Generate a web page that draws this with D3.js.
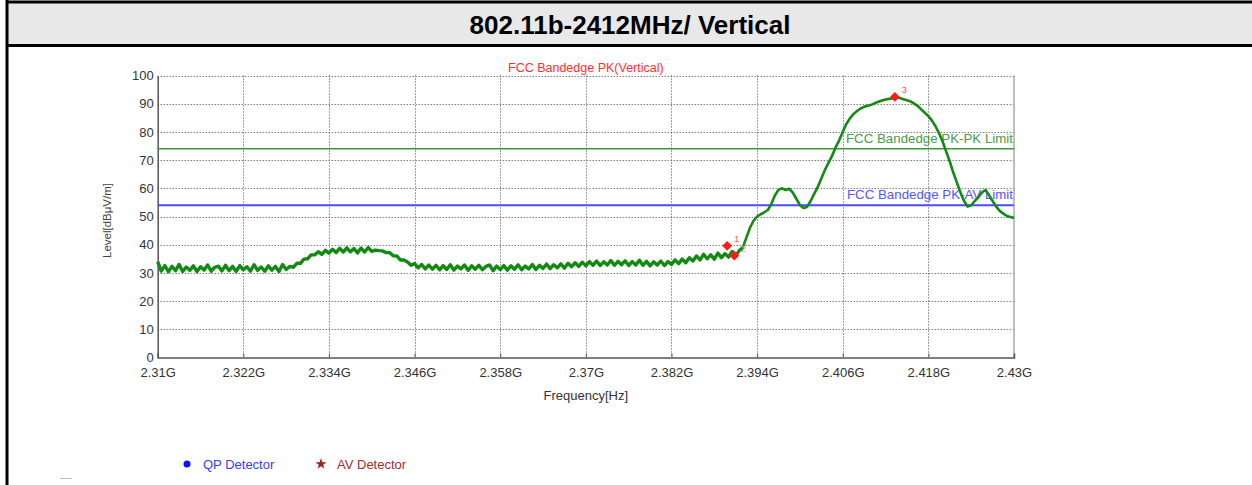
<!DOCTYPE html>
<html><head><meta charset="utf-8">
<script src="https://cdn.jsdelivr.net/npm/d3@7"></script>
<style>
body{margin:0;background:#fff;}
svg{display:block;font-family:Arial,"Liberation Sans",sans-serif;}
</style></head>
<body>
<svg id="c" width="1252" height="485"></svg>
<script>
// ---------- data ----------
const pageTitle = "802.11b-2412MHz/ Vertical";
const chartTitle = "FCC Bandedge PK(Vertical)";
const xTicks = [2.31, 2.322, 2.334, 2.346, 2.358, 2.37, 2.382, 2.394, 2.406, 2.418, 2.43];
const xTickLabels = ["2.31G","2.322G","2.334G","2.346G","2.358G","2.37G","2.382G","2.394G","2.406G","2.418G","2.43G"];
const yTicks = [0,10,20,30,40,50,60,70,80,90,100];
// sweep points: 2310.0 MHz to 2430.0 MHz every 0.5 MHz
const sweepStartMHz = 2310, sweepStepMHz = 0.5;
const traceLevels = [
 34.0,30.6,32.6,30.4,32.3,30.8,33.0,30.5,32.1,30.9,
 32.5,30.5,32.2,31.0,32.8,30.6,32.0,32.4,30.7,32.7,
 30.8,32.3,30.5,32.6,31.1,32.2,30.6,32.9,30.9,32.1,
 30.6,32.5,31.0,32.3,30.5,33.0,31.2,32.3,32.0,33.4,
 33.4,34.9,35.0,36.4,36.4,37.5,36.6,38.0,37.0,38.4,
 37.2,38.7,37.4,38.9,37.5,38.6,37.1,38.8,37.4,39.0,
 37.6,38.1,37.9,37.8,37.2,37.2,36.1,36.0,34.6,34.6,
 33.9,32.7,33.3,31.8,33.0,31.4,32.8,31.3,32.7,31.1,
 32.6,31.2,32.9,31.0,32.4,31.4,32.8,30.9,32.5,31.3,
 32.7,31.1,32.3,32.8,30.8,32.4,31.2,32.6,31.0,32.5,
 31.3,32.9,31.1,32.4,31.4,33.0,31.2,32.7,31.6,33.1,
 31.5,32.9,31.8,33.2,31.7,33.4,32.2,33.6,32.3,33.8,
 32.5,34.0,32.7,34.2,32.6,33.9,32.8,34.4,32.7,34.1,
 32.9,34.3,32.6,34.0,32.8,34.5,32.7,34.1,32.5,33.9,
 32.8,34.2,32.6,34.0,33.0,34.6,33.3,34.9,33.6,35.4,
 34.2,36.0,34.6,36.6,35.0,36.4,34.9,37.0,35.4,36.8,
 35.6,37.6,36.1,37.9,39.0,42.5,46.0,48.5,50.0,50.8,
 51.5,52.3,54.5,57.5,59.5,60.0,59.4,59.8,58.5,56.3,
 54.0,53.0,53.4,55.5,58.0,60.5,63.5,66.5,69.0,71.5,
 74.5,77.0,80.0,82.8,84.8,86.3,87.4,88.3,88.9,89.3,
 89.6,90.2,90.7,91.1,91.5,91.7,91.9,92.2,92.0,91.6,
 91.2,90.8,90.0,89.2,88.0,86.8,85.6,84.0,82.0,79.5,
 76.5,73.0,69.5,65.5,62.0,58.5,55.5,53.5,54.0,55.5,
 56.8,58.5,59.4,57.6,55.5,53.5,52.0,51.0,50.2,49.8,
 49.5
];
const limitNames = ["FCC Bandedge PK-PK Limit","FCC Bandedge PK-AV Limit"];
const limitLevels = [74, 54];
const markerIds = ["1","2","3"];
const markerFreqs = [2.3898, 2.3908, 2.4133];
const markerLevels = [39.6, 36.1, 92.4];
const legendNames = ["QP Detector","AV Detector"];

// ---------- layout ----------
const svg = d3.select("#c");
const L = 157.7, R = 1014, T = 75.5, B = 357.5;
const x = d3.scaleLinear().domain([2.31, 2.43]).range([L, R]);
const y = d3.scaleLinear().domain([0, 100]).range([B, T]);
const FONT = "Arial,'Liberation Sans',sans-serif";

// header frame
svg.append("rect").attr("x",7).attr("y",2).attr("width",1252).attr("height",43).attr("fill","#e8e8e8");
svg.append("line").attr("x1",6).attr("x2",1252).attr("y1",2).attr("y2",2).attr("stroke","#000").attr("stroke-width",3);
svg.append("line").attr("x1",6).attr("x2",1252).attr("y1",45.5).attr("y2",45.5).attr("stroke","#000").attr("stroke-width",3);
svg.append("line").attr("x1",7).attr("x2",7).attr("y1",0).attr("y2",485).attr("stroke","#000").attr("stroke-width",3);
svg.append("text").attr("x",630).attr("y",34).attr("text-anchor","middle")
  .attr("font-size",26).attr("font-weight","bold").attr("fill","#000").text(pageTitle);

// grid
const g = svg.append("g");
g.selectAll(".gy").data(yTicks.slice(1)).join("line")
  .attr("x1",L).attr("x2",R).attr("y1",d=>Math.round(y(d))+0.5).attr("y2",d=>Math.round(y(d))+0.5)
  .attr("stroke","#444").attr("stroke-width",1).attr("stroke-dasharray","1,2");
g.selectAll(".gx").data(xTicks.slice(1,-1)).join("line")
  .attr("y1",T).attr("y2",B).attr("x1",d=>Math.round(x(d))+0.5).attr("x2",d=>Math.round(x(d))+0.5)
  .attr("stroke","#444").attr("stroke-width",1).attr("stroke-dasharray","1,2");
// right border
g.append("line").attr("x1",R).attr("x2",R).attr("y1",T).attr("y2",B).attr("stroke","#aaa").attr("stroke-width",1.5);

// axes
const xAxis = d3.axisBottom(x).tickValues(xTicks).tickFormat((d,i)=>xTickLabels[i]).tickSize(-4).tickPadding(10);
const gx = svg.append("g").attr("transform",`translate(0,${B})`).call(xAxis);
gx.select(".domain").attr("stroke","#555").attr("stroke-width",1.5);
gx.selectAll(".tick line").attr("stroke","#555");
gx.selectAll("text").attr("font-size",13).attr("fill","#333").attr("font-family",FONT);
const yAxis = d3.axisLeft(y).tickValues(yTicks).tickSize(0).tickPadding(4);
const gy = svg.append("g").attr("transform",`translate(${L},0)`).call(yAxis);
gy.select(".domain").attr("stroke","#555").attr("stroke-width",1.5);
gy.selectAll("text").attr("font-size",13).attr("fill","#333").attr("font-family",FONT);

// axis titles
svg.append("text").attr("x",(L+R)/2).attr("y",400).attr("text-anchor","middle").attr("font-size",13).attr("fill","#333").text("Frequency[Hz]");
svg.append("text").attr("transform",`translate(111,${(T+B)/2 + 4}) rotate(-90)`).attr("text-anchor","middle")
  .attr("font-size",11.5).attr("fill","#444").text("Level[dBμV/m]");
svg.append("text").attr("x",(L+R)/2).attr("y",71.5).attr("text-anchor","middle").attr("font-size",12.5).attr("fill","#ff3030").text(chartTitle);

// limit lines
const limColors = ["#3a9a3a","#4a4aff"];
const limTextColors = ["#4a9a4a","#5555ff"];
limitLevels.forEach((v,i)=>{
  svg.append("line").attr("x1",L).attr("x2",R).attr("y1",y(v)).attr("y2",y(v))
    .attr("stroke",limColors[i]).attr("stroke-width",i?2:1.5);
  svg.append("text").attr("x",R-1).attr("y",y(v)-6).attr("text-anchor","end").attr("font-size",13.3)
    .attr("fill",limTextColors[i]).text(limitNames[i]);
});

// trace: noisy floor drawn heavier, emission drawn as a thinner line
const trace = traceLevels.map((v,i)=>[(sweepStartMHz + i*sweepStepMHz)/1000, v]);
const lineGen = d3.line().x(d=>x(d[0])).y(d=>y(d[1]));
const splitF = 2.392;
svg.append("path").datum(trace.filter(d=>d[0] <= splitF + 1e-9))
  .attr("d", lineGen).attr("fill","none").attr("stroke","#138a13").attr("stroke-width",3.4).attr("stroke-linejoin","round");
svg.append("path").datum(trace.filter(d=>d[0] >= splitF - 1e-9))
  .attr("d", lineGen).attr("fill","none").attr("stroke","#138a13").attr("stroke-width",2.6).attr("stroke-linejoin","round");

// markers
markerFreqs.forEach((f,i)=>{
  svg.append("path").attr("d", d3.symbol().type(d3.symbolSquare).size(48)())
    .attr("transform",`translate(${x(f)},${y(markerLevels[i])}) rotate(45)`).attr("fill","#ff1a1a");
  svg.append("text").attr("x",x(f)+7).attr("y",y(markerLevels[i])-4).attr("font-size",9)
    .attr("fill", i===1 ? "#e8a0a0" : "#ff5050").text(markerIds[i]);
});

// legend
svg.append("circle").attr("cx",187).attr("cy",464).attr("r",3.5).attr("fill","#1010ff");
svg.append("text").attr("x",203).attr("y",468.5).attr("font-size",13).attr("fill","#3a3aff").text(legendNames[0]);
svg.append("path").attr("d", d3.symbol().type(d3.symbolStar).size(40)())
  .attr("transform","translate(321,464)").attr("fill","#a02020");
svg.append("text").attr("x",337).attr("y",468.5).attr("font-size",13).attr("fill","#9a3030").text(legendNames[1]);
svg.append("line").attr("x1",60).attr("x2",72).attr("y1",478.5).attr("y2",478.5).attr("stroke","#bbb").attr("stroke-width",1);
</script>
</body></html>
